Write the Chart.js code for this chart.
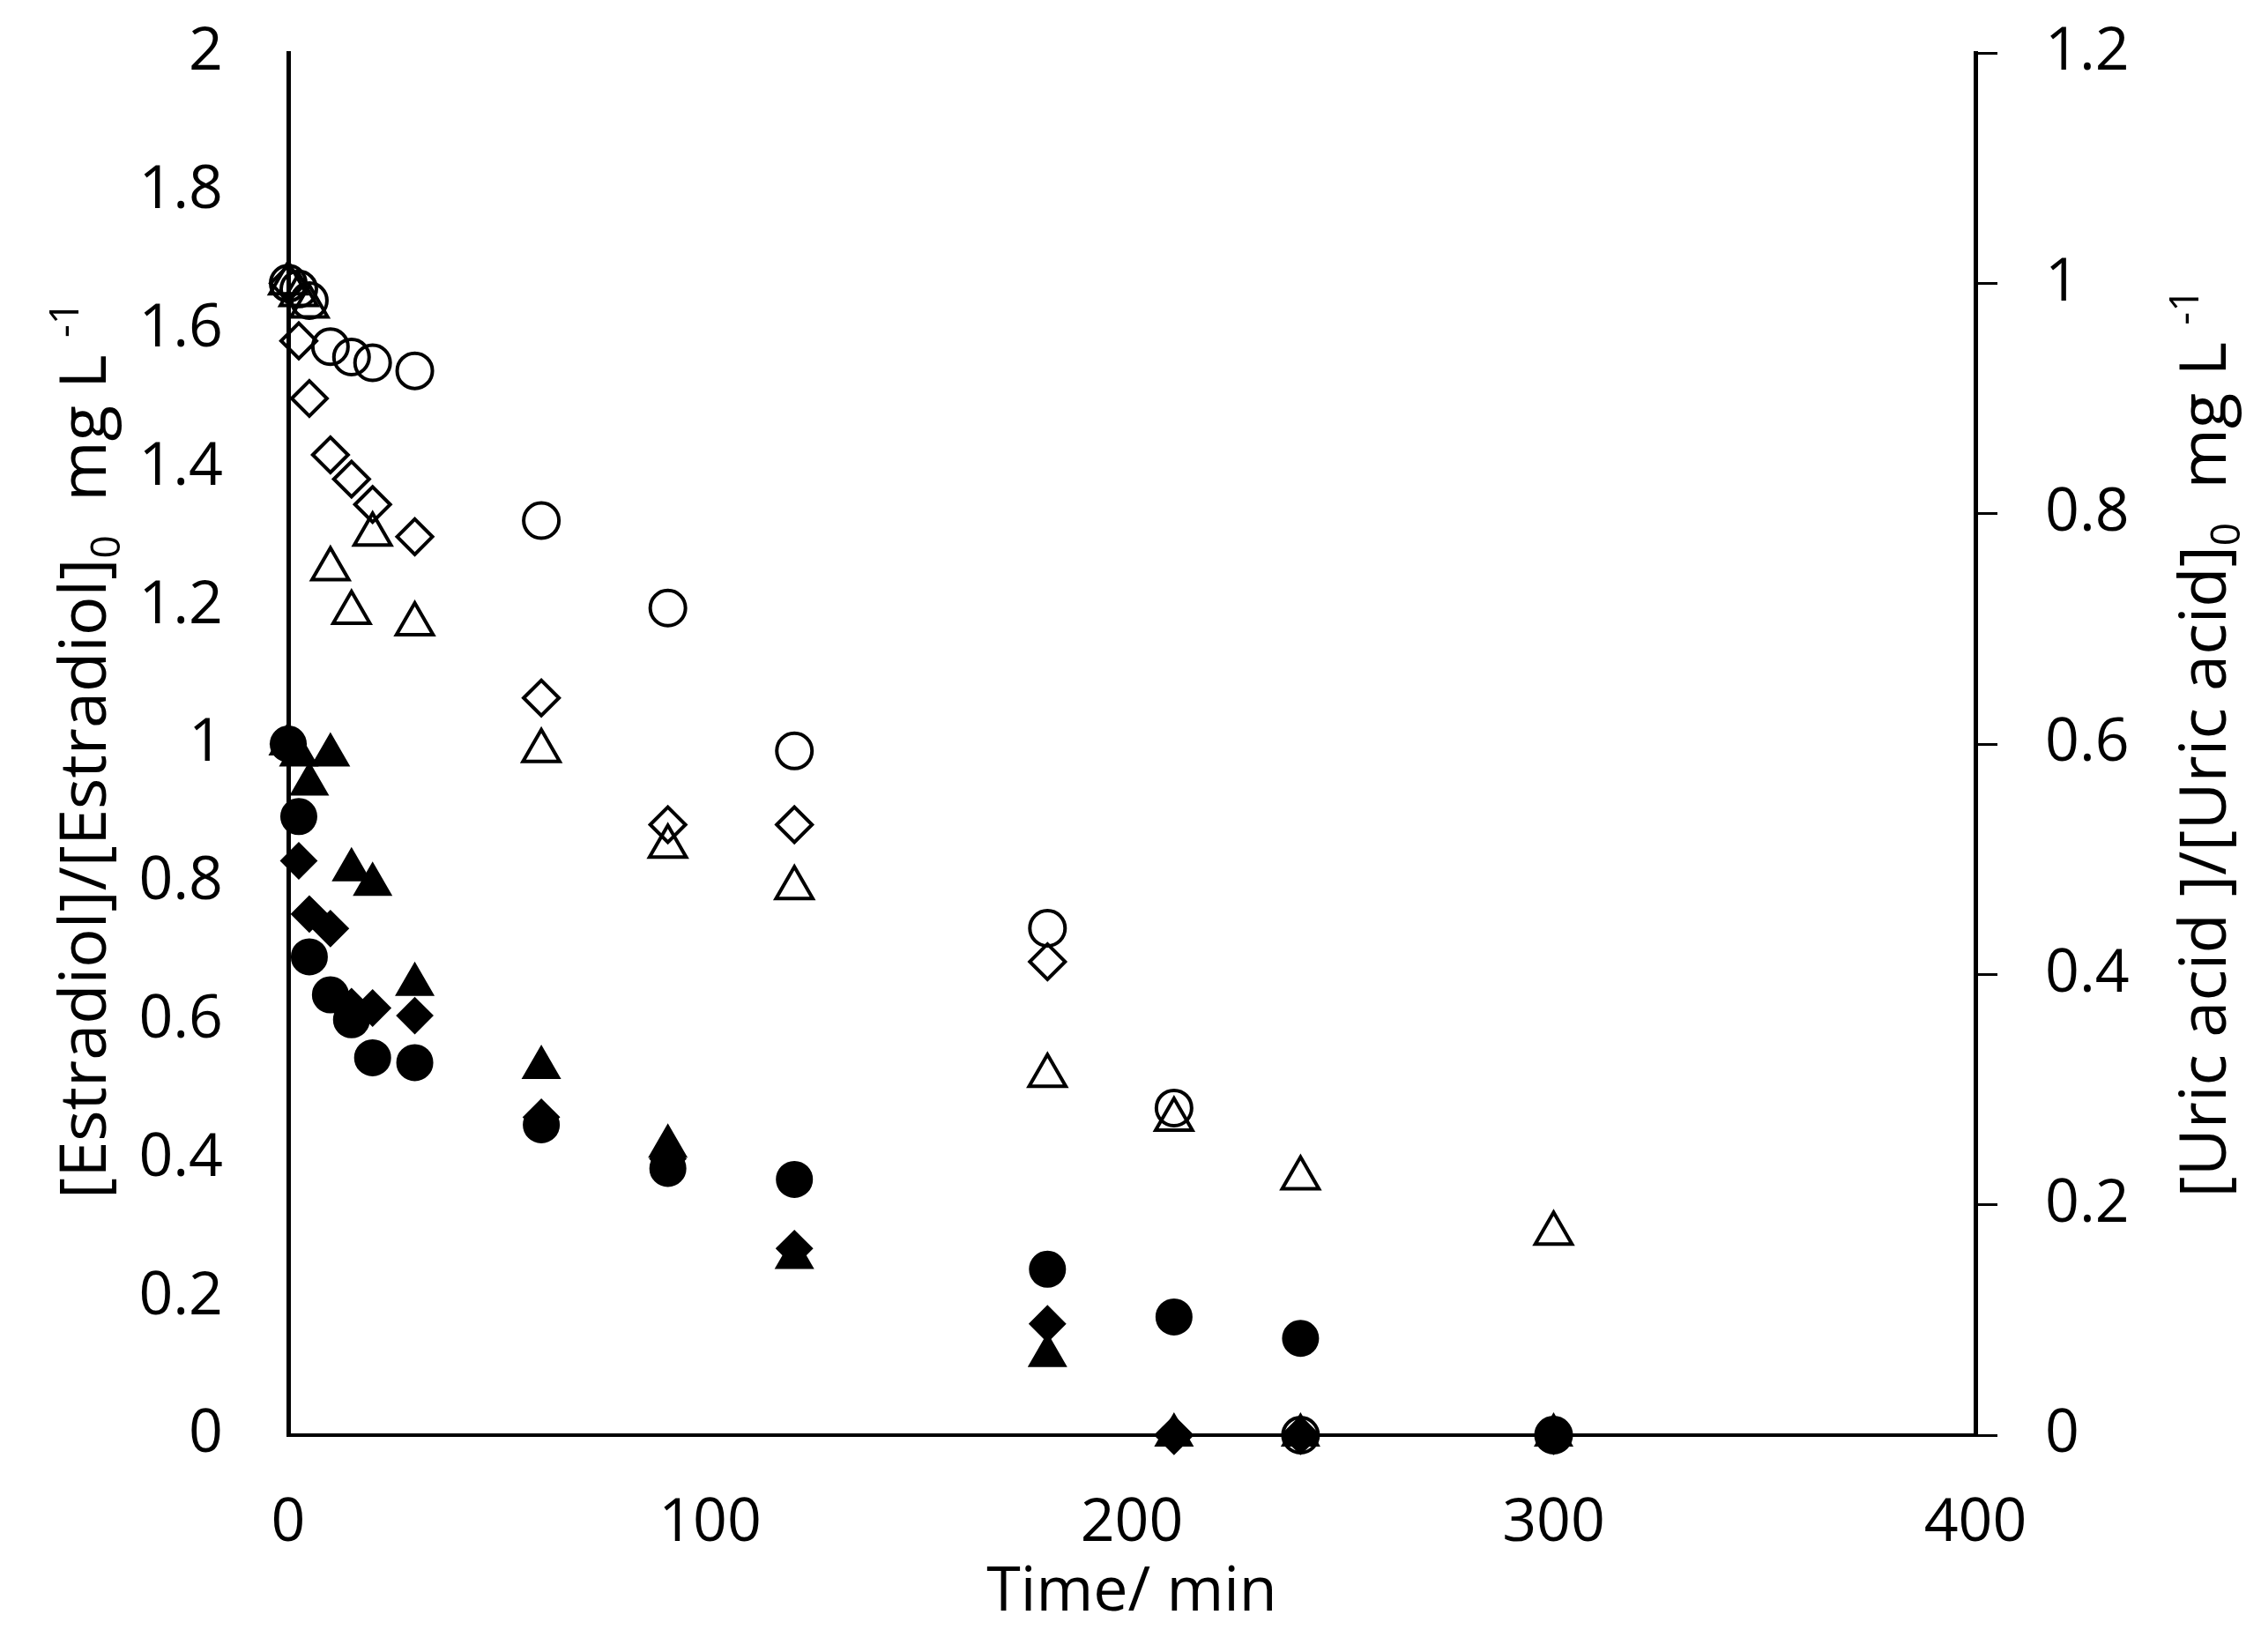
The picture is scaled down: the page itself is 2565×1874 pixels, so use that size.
<!DOCTYPE html>
<html>
<head>
<meta charset="utf-8">
<script src="https://cdn.jsdelivr.net/npm/chart.js@4.4.1/dist/chart.umd.min.js"></script>
<style>
  html, body { margin: 0; padding: 0; background: #fff; }
  #wrap { width: 2565px; height: 1874px; position: relative; }
</style>
</head>
<body>
<div id="wrap"><canvas id="chart"></canvas></div>
<script>
// sampling times (min)
const times = [0, 2.5, 5, 10, 15, 20, 30, 60, 90, 120, 180, 210, 240, 300];

// [Estradiol]/[Estradiol]0 - left axis, filled markers
const estradiolCircle   = [1.00, 0.895, 0.692, 0.637, 0.601, 0.546, 0.539, 0.449, 0.386, 0.370, 0.240, 0.171, 0.140, 0];
const estradiolDiamond  = [1.00, 0.831, 0.754, 0.733, 0.620, 0.618, 0.607, 0.460, 0.400, 0.270, 0.161, 0, 0, 0];
const estradiolTriangle = [1.00, 0.984, 0.942, 0.984, 0.818, 0.797, 0.652, 0.532, 0.418, 0.257, 0.115, 0, 0, 0];

// [Uric acid]/[Uric acid]0 - right axis, open markers
const uricCircle   = [1.00, 0.995, 0.985, 0.945, 0.936, 0.931, 0.924, 0.794, 0.718, 0.594, 0.440, 0.284, 0, 0];
const uricDiamond  = [1.00, 0.950, 0.900, 0.851, 0.830, 0.808, 0.780, 0.640, 0.530, 0.530, 0.411, 0, 0, 0];
const uricTriangle = [1.00, 0.990, 0.980, 0.752, 0.714, 0.782, 0.704, 0.594, 0.511, 0.475, 0.312, 0.274, 0.223, 0.175];

const xTicks = [0, 100, 200, 300, 400];
const leftTicks = [0, 0.2, 0.4, 0.6, 0.8, 1, 1.2, 1.4, 1.6, 1.8, 2];
const rightTicks = [0, 0.2, 0.4, 0.6, 0.8, 1, 1.2];

const FONT = "'Open Sans', 'Noto Sans', 'DejaVu Sans', sans-serif";

function toPoints(values) {
    return times.map((t, i) => ({ x: t, y: values[i] }));
}

function series(label, values, style, filled, axis) {
    const isTri = style === 'triangle';
    return {
        label: label,
        data: toPoints(values),
        yAxisID: axis,
        pointStyle: style,
        pointRadius: isTri ? 24 : 20,
        pointBorderWidth: filled ? 2 : 4,
        borderColor: '#000',
        pointBorderColor: '#000',
        pointBackgroundColor: filled ? '#000' : 'rgba(0,0,0,0)',
        showLine: false,
        clip: false
    };
}

// draws a line of text with sub/superscript parts, optionally rotated
function drawRich(ctx, parts, cx, cy, angle, size) {
    ctx.save();
    ctx.translate(cx, cy);
    ctx.rotate(angle);
    ctx.fillStyle = '#000';
    ctx.textBaseline = 'alphabetic';
    ctx.textAlign = 'left';
    let total = 0;
    parts.forEach(p => {
        ctx.font = `${Math.round(size * (p.scale || 1))}px ${FONT}`;
        p.w = ctx.measureText(p.t).width;
        total += p.w;
    });
    let x = -total / 2;
    const base = size * 0.36;
    parts.forEach(p => {
        ctx.font = `${Math.round(size * (p.scale || 1))}px ${FONT}`;
        ctx.fillText(p.t, x, base + size * (p.shift || 0));
        x += p.w;
    });
    ctx.restore();
}

const leftTitle = [
    { t: '[Estradiol]/[Estradiol]' },
    { t: '0', scale: 0.62, shift: 0.22 },
    { t: '  mg L ' },
    { t: '-1', scale: 0.62, shift: -0.42 }
];
const rightTitle = [
    { t: '[Uric acid ]/[Uric acid]' },
    { t: '0', scale: 0.62, shift: 0.22 },
    { t: '  mg L ' },
    { t: '-1', scale: 0.62, shift: -0.42 }
];

const axisTitles = {
    id: 'axisTitles',
    afterDraw(chart) {
        const ctx = chart.ctx;
        const area = chart.chartArea;
        drawRich(ctx, leftTitle, area.left - 234, 851, -Math.PI / 2, 74);
        drawRich(ctx, rightTitle, area.right + 257, 843, -Math.PI / 2, 74);
        drawRich(ctx, [{ t: 'Time/ min' }], 1284, 1802, 0, 70);
    }
};

function fmt(v) {
    return String(Number(v.toFixed(1)));
}

// keep the plot area where the reference has it
function fixY(width) {
    return s => {
        s.width = width;
        s.paddingTop = 0;
        s.paddingBottom = 0;
    };
}

const ctx = document.getElementById('chart').getContext('2d');
new Chart(ctx, {
    type: 'scatter',
    data: {
        datasets: [
            series('Uric acid (circle)', uricCircle, 'circle', false, 'y2'),
            series('Uric acid (diamond)', uricDiamond, 'rectRot', false, 'y2'),
            series('Uric acid (triangle)', uricTriangle, 'triangle', false, 'y2'),
            series('Estradiol (circle)', estradiolCircle, 'circle', true, 'y'),
            series('Estradiol (diamond)', estradiolDiamond, 'rectRot', true, 'y'),
            series('Estradiol (triangle)', estradiolTriangle, 'triangle', true, 'y')
        ]
    },
    options: {
        responsive: true,
        maintainAspectRatio: false,
        animation: false,
        devicePixelRatio: 1,
        layout: { padding: { top: 60, left: 0, right: 0, bottom: 0 } },
        plugins: {
            legend: { display: false },
            tooltip: { enabled: false }
        },
        scales: {
            x: {
                type: 'linear',
                min: 0,
                max: 400,
                afterBuildTicks: s => { s.ticks = xTicks.map(v => ({ value: v })); },
                afterFit: s => { s.height = 246; s.paddingLeft = 0; s.paddingRight = 0; },
                grid: { display: false, drawTicks: false },
                border: { display: true, color: '#000', width: 4 },
                ticks: {
                    color: '#000',
                    font: { family: FONT, size: 68 },
                    padding: 60,
                    maxRotation: 0,
                    autoSkip: false
                }
            },
            y: {
                type: 'linear',
                position: 'left',
                min: 0,
                max: 2,
                afterBuildTicks: s => { s.ticks = leftTicks.map(v => ({ value: v })); },
                afterFit: fixY(327),
                grid: { display: false, drawTicks: false },
                border: { display: true, color: '#000', width: 5 },
                ticks: {
                    color: '#000',
                    font: { family: FONT, size: 68 },
                    padding: 74,
                    autoSkip: false,
                    callback: v => fmt(v)
                }
            },
            y2: {
                type: 'linear',
                position: 'right',
                min: 0,
                max: 1.2,
                afterBuildTicks: s => { s.ticks = rightTicks.map(v => ({ value: v })); },
                afterFit: fixY(324),
                grid: {
                    display: true,
                    drawOnChartArea: false,
                    drawTicks: true,
                    tickLength: 25,
                    lineWidth: 3,
                    color: '#000'
                },
                border: { display: true, color: '#000', width: 5 },
                ticks: {
                    color: '#000',
                    font: { family: FONT, size: 68 },
                    padding: 54,
                    autoSkip: false,
                    callback: v => fmt(v)
                }
            }
        }
    },
    plugins: [axisTitles]
});
</script>
</body>
</html>
